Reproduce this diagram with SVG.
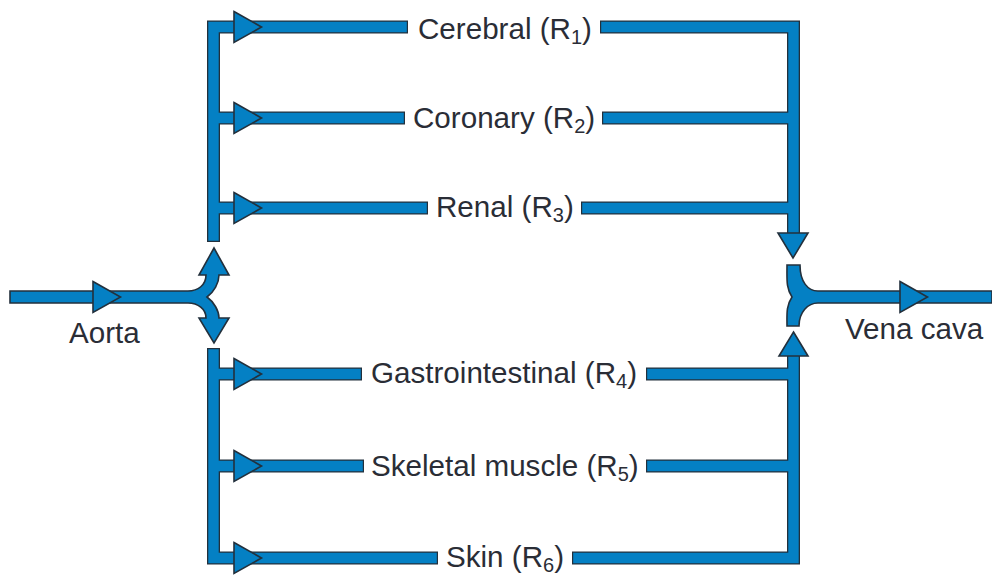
<svg xmlns="http://www.w3.org/2000/svg" width="992" height="576" viewBox="0 0 992 576">
<style>
text{font-family:"Liberation Sans",Arial,sans-serif;font-size:29.600px;fill:#2a2d36}
.sub{font-size:20px}
.o{fill:none;stroke:#23303c;stroke-width:13;stroke-linejoin:miter}
.i{fill:none;stroke:#0480c4;stroke-width:10.4;stroke-linejoin:miter}
.s{fill:#0480c4;stroke:#23303c;stroke-width:1.6;stroke-linejoin:miter}
</style>
<defs>
<polygon id="ah" class="s" points="0,-15.5 27.500,0 0,15.500"/>
</defs>
<rect width="992" height="576" fill="#ffffff"/>
<g id="connectors">
<g id="pipe-outlines">
<path class="o" d="M213.500 242V27H408M213.500 118H405M213.500 208H428"/>
<path class="o" d="M213.500 348V558H438M213.500 374H362M213.500 466H364"/>
<path class="o" d="M600 27H793.500V236M602 118H793.500M581 208H793.500"/>
<path class="o" d="M793.500 354V558H572M646 374H793.500M646 466H793.500"/>
</g>
<g id="pipe-fills">
<path class="i" d="M213.500 240.800V27H406.800M213.500 118H403.800M213.500 208H426.800"/>
<path class="i" d="M213.500 349.200V558H436.800M213.500 374H360.800M213.500 466H362.800"/>
<path class="i" d="M601.200 27H793.500V238M603.200 118H793.500M582.200 208H793.500"/>
<path class="i" d="M793.500 352V558H573.200M647.200 374H793.500M647.200 466H793.500"/>
</g>
<path id="aorta-fork" class="s" d="M10 291H188C198 291 206 285 206 275H199L214 248L229 275H219C219 283 214 292 207 297C214 302 219 311 219 318H229L214 343L199 318H206C206 309 198 303 188 303H10Z"/>
<path id="vena-fork" class="s" d="M992 291H818C808 291 800 282 800 265H787C787 280 786 288 792 297C786 306 787 314 787 326H799C799 312 808 303 818 303H992Z"/>
<polygon class="s" points="778,233 808,233 793,258"/>
<polygon class="s" points="793.500,332 808,356 779,356"/>
<use href="#ah" x="93" y="297"/>
<use href="#ah" x="900" y="297"/>
<use href="#ah" x="234" y="27"/>
<use href="#ah" x="234" y="118"/>
<use href="#ah" x="234" y="208"/>
<use href="#ah" x="234" y="374"/>
<use href="#ah" x="234" y="466"/>
<use href="#ah" x="234" y="558"/>
</g>
<g id="node-aorta"><text x="69" y="343">Aorta</text></g>
<g id="node-vena-cava"><text x="845" y="339">Vena cava</text></g>
<g id="node-cerebral"><text x="418" y="39">Cerebral (R<tspan class="sub" dy="5">1</tspan><tspan dy="-5">)</tspan></text></g>
<g id="node-coronary"><text x="413" y="128">Coronary (R<tspan class="sub" dy="5">2</tspan><tspan dy="-5">)</tspan></text></g>
<g id="node-renal"><text x="436" y="217">Renal (R<tspan class="sub" dy="5">3</tspan><tspan dy="-5">)</tspan></text></g>
<g id="node-gastrointestinal"><text x="371" y="383">Gastrointestinal (R<tspan class="sub" dy="5">4</tspan><tspan dy="-5">)</tspan></text></g>
<g id="node-skeletal"><text x="371" y="476">Skeletal muscle (R<tspan class="sub" dy="5">5</tspan><tspan dy="-5">)</tspan></text></g>
<g id="node-skin"><text x="446" y="567">Skin (R<tspan class="sub" dy="5">6</tspan><tspan dy="-5">)</tspan></text></g>
</svg>
